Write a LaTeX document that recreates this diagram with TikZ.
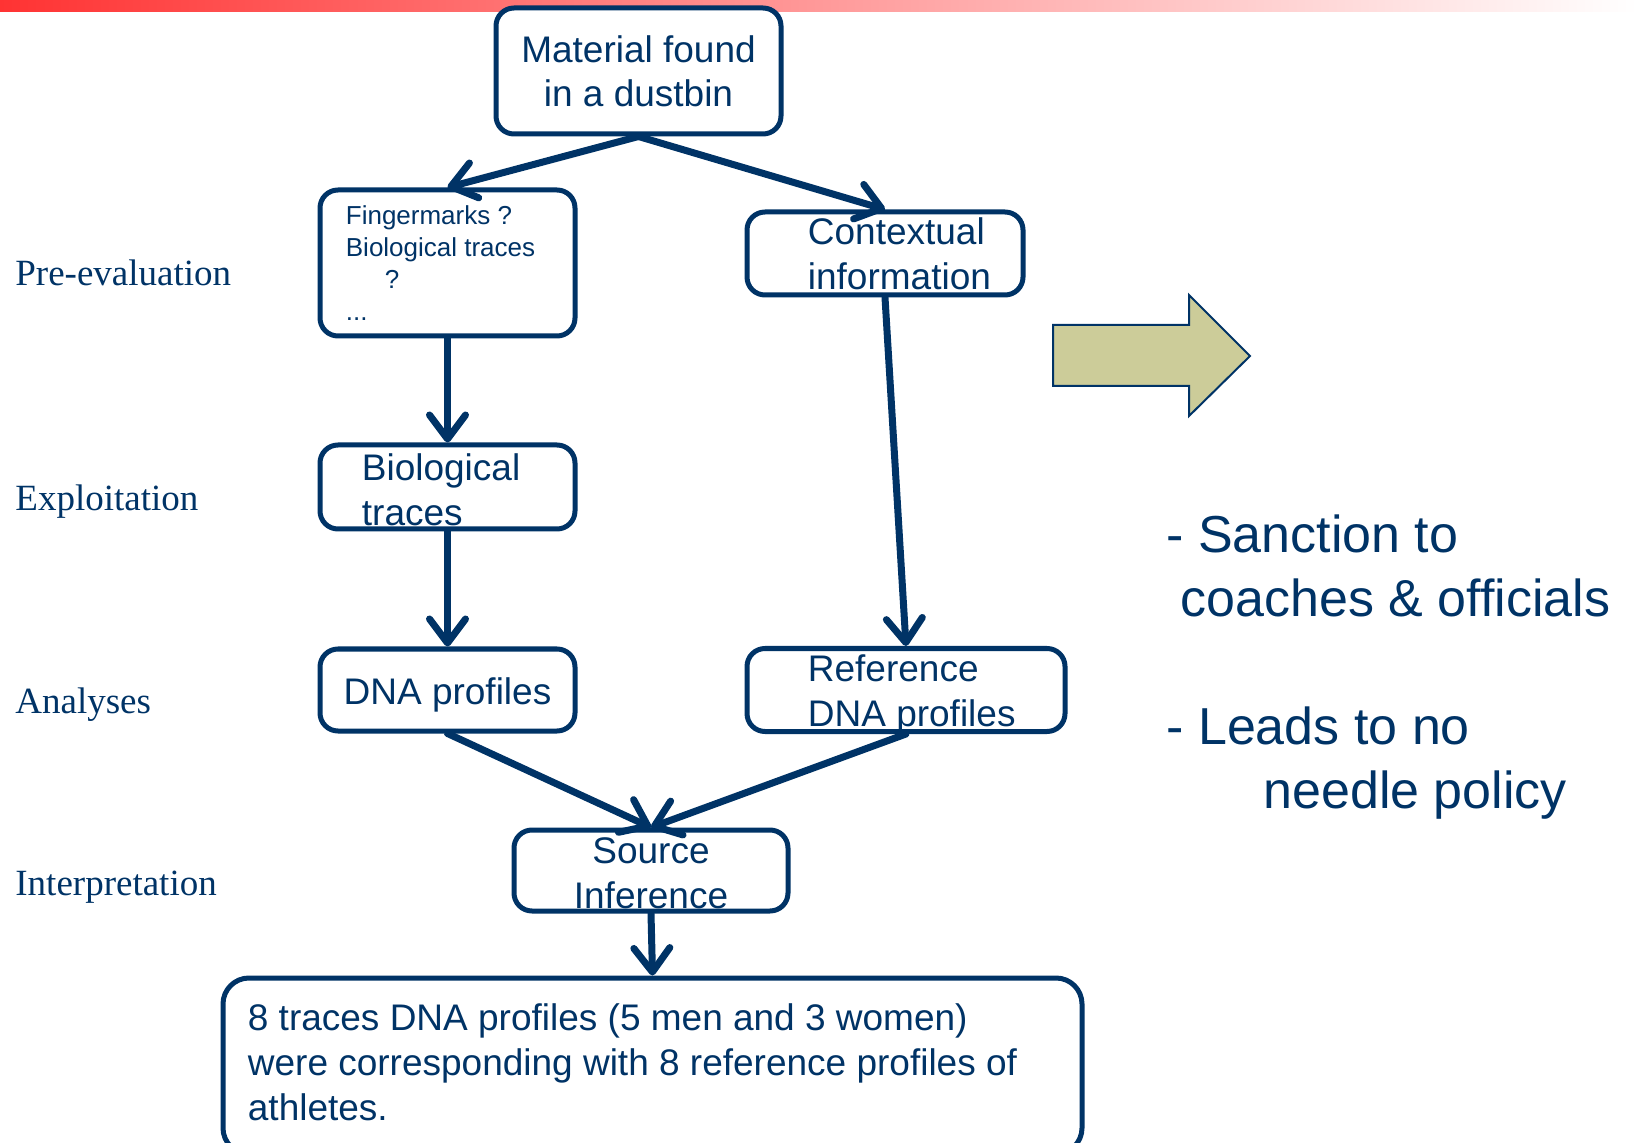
\documentclass[tikz,border=0pt]{standalone}
\usepackage{fontspec}
\setmainfont{Liberation Serif}
\setsansfont{Liberation Sans}
\usetikzlibrary{positioning, calc, arrows.meta}
\definecolor{navy}{RGB}{0,51,102}
\definecolor{khaki}{RGB}{204,204,153}
\definecolor{barred}{RGB}{255,51,51}

\begin{document}
\begin{tikzpicture}[x=0.5pt, y=-0.5pt, on grid,
    box/.style={draw=navy, line width=2.5pt, rounded corners=9pt, fill=white, inner sep=0pt, minimum width=127.5pt},
    txt/.style={text=navy, font=\sffamily\fontsize{18.5}{22.5}\selectfont, align=left, inner sep=0pt},
    stage/.style={text=navy, font=\fontsize{18.5}{22}\selectfont, anchor=base west, inner sep=0pt},
    flow/.style={draw=navy, line width=3.5pt, line cap=round, -{Straight Barb[length=12pt, width=18pt, round]}}]

    \useasboundingbox (0,0) rectangle (1637,1143);
    \shade[left color=barred, right color=white] (0,0) rectangle (1637,12);

    \node[box, minimum width=142.5pt, minimum height=63pt, txt, font=\sffamily\fontsize{18.5}{22}\selectfont, align=center] (mat) at (638.5,71) {Material found\\in a dustbin};
    \node[box, minimum height=73pt] (fing) [below=96pt of mat, xshift=-95.5pt] {};
    \node[box, minimum width=138pt, minimum height=41.5pt] (ctx) [right=218.75pt of fing, yshift=4.75pt] {};
    \node[box, minimum height=42pt] (bio) [below=112pt of fing] {};
    \node[box, minimum height=41pt] (dna) [below=101.5pt of bio] {};
    \node[box, minimum width=159pt, minimum height=41.5pt] (ref) [right=229.25pt of dna] {};
    \node[box, minimum width=137pt, minimum height=40.5pt] (src) [below=90.25pt of dna, xshift=101.75pt] {};
    \node[box, minimum width=429.5pt, minimum height=88pt, rounded corners=13pt] (res) [below=97.75pt of src, xshift=0.75pt] {};

    \node[txt, font=\sffamily\fontsize{13}{16}\selectfont] (fing-t) [right=14pt of fing.west, anchor=west] {Fingermarks ?\\Biological traces\\\hspace*{19.5pt}?\\...};
    \node[txt] (ctx-t) [right=31.5pt of ctx.west, anchor=west] {Contextual\\information};
    \node[txt] (bio-t) [right=22pt of bio.west, anchor=west, yshift=-1.5pt] {Biological\\traces};
    \node[txt] (dna-t) [below=2.5pt of dna] {DNA profiles};
    \node[txt] (ref-t) [right=31.5pt of ref.west, anchor=west, yshift=-2pt] {Reference\\DNA profiles};
    \node[txt, align=center] (src-t) [below=1.5pt of src] {Source\\Inference};
    \node[txt, font=\sffamily\fontsize{18.5}{22.5}\selectfont] (res-t) [right=13.5pt of res.west, anchor=west, yshift=1.75pt] {8 traces DNA profiles (5 men and 3 women)\\were corresponding with 8 reference profiles of\\athletes.};

    \node[stage] (pre) at (15,286) {Pre-evaluation};
    \node[stage] (expl) at (15,511) {Exploitation};
    \node[stage] (ana) at (15,713) {Analyses};
    \node[stage] (interp) at (15,895) {Interpretation};

    \draw[navy, fill=khaki, line width=1pt] (1053,325) -- (1189,325) -- (1189,295) -- (1250,356) -- (1189,416) -- (1189,386) -- (1053,386) -- cycle;

    \node[txt, font=\sffamily\fontsize{26}{32}\selectfont, anchor=west] (sanction) at (1166,566) {- Sanction to\\\hspace*{7pt}coaches \& officials};
    \node[txt, font=\sffamily\fontsize{26}{32}\selectfont, anchor=west] (leads) at (1166,763) {- Leads to no\\\hspace*{48.5pt}needle policy};

    \draw[flow] (mat.south) -- (fing.north);
    \draw[flow] (mat.south) -- (ctx.north);
    \draw[flow] (fing.south) -- (bio.north);
    \draw[flow] (bio.south) -- (dna.north);
    \draw[flow] (ctx.south) -- (ref.north);
    \draw[flow] (dna.south) -- (src.north);
    \draw[flow] (ref.south) -- (src.north);
    \draw[flow] (src.south) -- (res.north);
  \end{tikzpicture}
\end{document}
